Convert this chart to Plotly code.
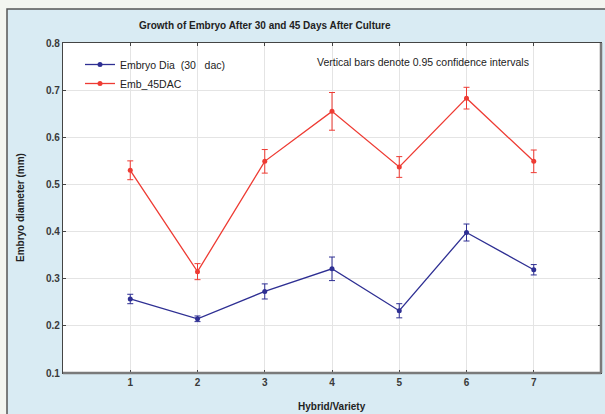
import plotly.graph_objects as go

hybrids = [1, 2, 3, 4, 5, 6, 7]
dia_30dac = [0.257, 0.215, 0.273, 0.321, 0.232, 0.398, 0.319]
ci_30dac = [0.010, 0.006, 0.016, 0.025, 0.015, 0.018, 0.011]
dia_45dac = [0.530, 0.315, 0.549, 0.655, 0.537, 0.683, 0.549]
ci_45dac = [0.020, 0.017, 0.025, 0.040, 0.022, 0.023, 0.024]
y_ticks = [0.1, 0.2, 0.3, 0.4, 0.5, 0.6, 0.7, 0.8]
y_tick_labels = ["0.1", "0.2", "0.3", "0.4", "0.5", "0.6", "0.7", "0.8"]

BLUE = "#2e2f93"
RED = "#ee3b33"
W, H = 605, 414
L, R, T, B = 63, 4, 43, 41
pw, ph = W - L - R, H - T - B

def px_x(p):
    return (p - L) / pw

def px_y(p):
    return (H - B - p) / ph

fig = go.Figure()
fig.add_trace(go.Scatter(
    x=hybrids, y=dia_30dac, name="Embryo Dia  (30   dac)", mode="lines+markers",
    line=dict(color=BLUE, width=1.3), marker=dict(color=BLUE, size=5),
    error_y=dict(type="data", array=ci_30dac, color=BLUE, thickness=1, width=3),
))
fig.add_trace(go.Scatter(
    x=hybrids, y=dia_45dac, name="Emb_45DAC", mode="lines+markers",
    line=dict(color=RED, width=1.3), marker=dict(color=RED, size=5),
    error_y=dict(type="data", array=ci_45dac, color=RED, thickness=1, width=3),
))

tick_font = dict(family="Liberation Sans", size=10, color="#3a3a3a", weight="bold")
fig.update_xaxes(
    range=[0, 8], tickvals=hybrids, ticktext=[str(h) for h in hybrids],
    showgrid=True, gridcolor="#e4e4e4", gridwidth=1, zeroline=False,
    showline=True, linecolor="#444444", linewidth=1.2, mirror="allticks",
    ticks="inside", ticklen=3, tickcolor="#444444", tickfont=tick_font,
)
fig.update_yaxes(
    range=[0.1, 0.8], tickvals=y_ticks, ticktext=y_tick_labels,
    showgrid=True, gridcolor="#e4e4e4", gridwidth=1, zeroline=False,
    showline=True, linecolor="#444444", linewidth=1.2, mirror="allticks",
    ticks="inside", ticklen=3, tickcolor="#444444", tickfont=tick_font,
)

shapes = [
    dict(type="rect", xref="paper", yref="paper", layer="below",
         x0=px_x(7), x1=px_x(640), y0=px_y(9), y1=px_y(440),
         fillcolor="#d9ebf3", line=dict(color="#555555", width=1.5)),
    dict(type="rect", xref="paper", yref="paper", layer="below",
         x0=0, x1=1, y0=0, y1=1, fillcolor="white", line=dict(width=0)),
    dict(type="line", xref="paper", yref="paper", layer="above",
         x0=1, x1=1, y0=0, y1=1, line=dict(color="#7a7a7a", width=2.5)),
    dict(type="line", xref="paper", yref="paper", layer="above",
         x0=0, x1=1, y0=0, y1=0, line=dict(color="#7a7a7a", width=2.5)),
]

annotations = [
    dict(text="<b>Growth of Embryo After 30 and 45 Days After Culture</b>",
         xref="paper", yref="paper", x=px_x(265), y=px_y(25),
         xanchor="center", yanchor="middle", showarrow=False,
         font=dict(family="Liberation Sans", size=10, color="#222222")),
    dict(text="<b>Hybrid/Variety</b>", xref="paper", yref="paper",
         x=px_x(332), y=px_y(406), xanchor="center", yanchor="middle",
         showarrow=False, font=dict(family="Liberation Sans", size=10, color="#222222")),
    dict(text="<b>Embryo diameter (mm)</b>", xref="paper", yref="paper",
         x=px_x(20), y=px_y(208), xanchor="center", yanchor="middle", textangle=-90,
         showarrow=False, font=dict(family="Liberation Sans", size=10, color="#222222")),
    dict(text="Vertical bars denote 0.95 confidence intervals", xref="paper", yref="paper",
         x=px_x(315), y=px_y(62), xanchor="left", yanchor="middle",
         showarrow=False, font=dict(family="Liberation Sans", size=10.5, color="#222222")),
]

fig.update_layout(
    width=W, height=H, margin=dict(l=L, r=R, t=T, b=B),
    paper_bgcolor="#f3f5f0", plot_bgcolor="white",
    shapes=shapes, annotations=annotations,
    legend=dict(x=px_x(80), y=px_y(50), xanchor="left", yanchor="top",
                bgcolor="rgba(0,0,0,0)", font=dict(family="Liberation Sans", size=10.5, color="#222222"),
                tracegroupgap=0, itemwidth=30),
    showlegend=True,
)

fig.write_html("out.html", config={"displayModeBar": False},
               post_script="document.body.style.margin='0';")
